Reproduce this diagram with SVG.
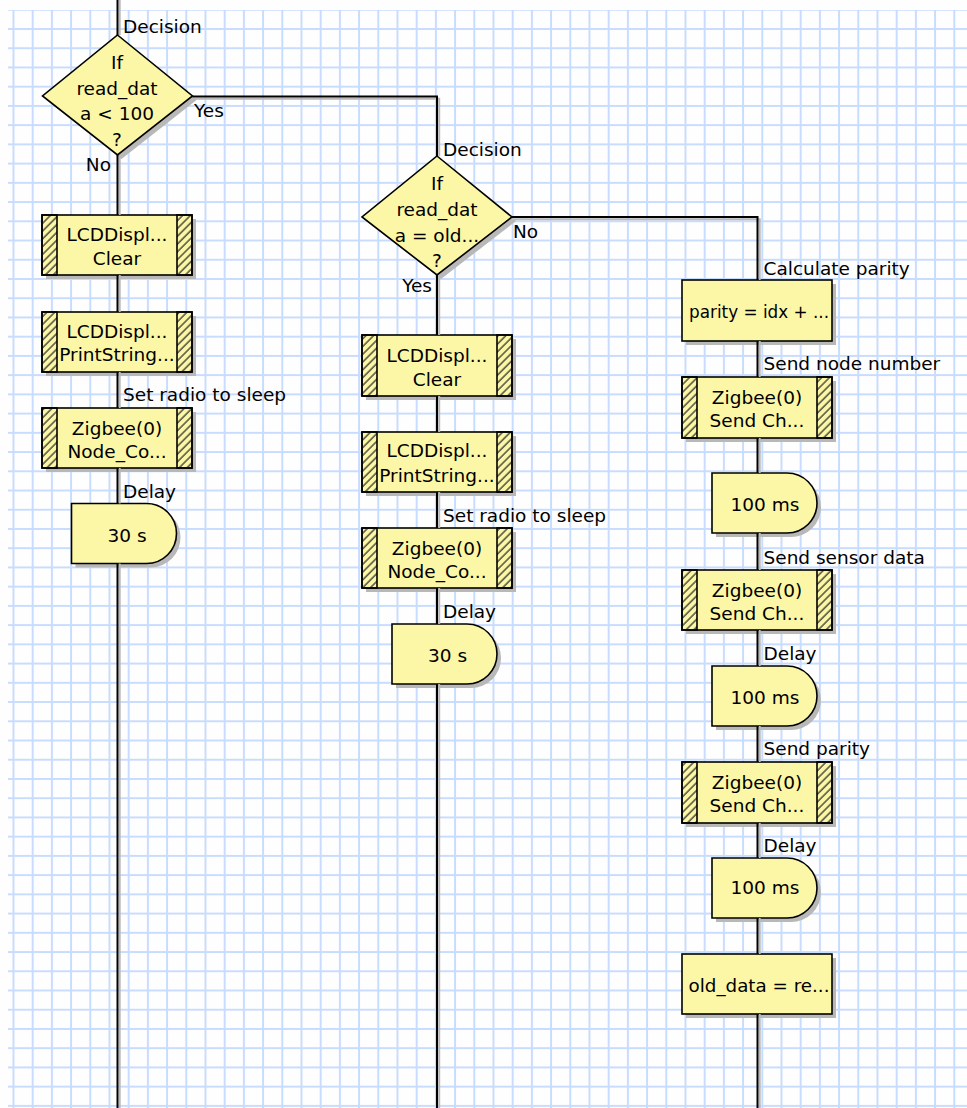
<svg xmlns="http://www.w3.org/2000/svg" width="967" height="1108" viewBox="0 0 967 1108">
<defs>
<pattern id="grid" patternUnits="userSpaceOnUse" x="12.5" y="8.8" width="19.2" height="19.23">
<path d="M1 0 V19.23 M0 1 H19.2" stroke="#c8dcff" stroke-width="2" fill="none"/>
</pattern>
<pattern id="hatch" patternUnits="userSpaceOnUse" width="5.5" height="5.5" patternTransform="rotate(45)">
<line x1="1" y1="-1" x2="1" y2="7" stroke="#222" stroke-width="1.2"/>
</pattern>
<style>
.sh{fill:#b8b8b8}
.box{fill:#fbf7a6;stroke:#000;stroke-width:1.6}
.strip{fill:url(#hatch);stroke:#000;stroke-width:1.6}
.t{font-family:"DejaVu Sans",sans-serif;font-size:18.5px;fill:#000}
.c{text-anchor:middle}
.e{text-anchor:end}
.w{stroke:#000;stroke-width:2;fill:none}
.ws{stroke:#b8b8b8;stroke-width:2;fill:none}
</style>
</defs>
<rect x="0" y="0" width="967" height="1108" fill="#fefefe"/>
<rect x="8" y="10" width="959" height="1098" fill="url(#grid)"/>

<!-- Left column -->
<g id="decision-1">
<polygon class="sh" points="121.5,39 196.5,100 121.5,159 46.5,100"/>
<polygon class="box" points="117.5,35 192.5,96 117.5,155 42.5,96"/>
<text class="t c" x="117" y="69">If</text>
<text class="t c" x="117" y="95">read_dat</text>
<text class="t c" x="117" y="120">a &lt; 100</text>
<text class="t c" x="117" y="146">?</text>
</g>
<g id="lcd-clear-1">
<rect class="sh" x="46" y="219" width="150" height="60"/>
<rect class="box" x="42" y="215" width="150" height="60"/>
<rect class="strip" x="42" y="215" width="15" height="60"/>
<rect class="strip" x="177" y="215" width="15" height="60"/>
<text class="t c" x="117" y="241">LCDDispl...</text>
<text class="t c" x="117" y="265">Clear</text>
</g>
<g id="lcd-print-1">
<rect class="sh" x="46" y="316" width="150" height="60"/>
<rect class="box" x="42" y="312" width="150" height="60"/>
<rect class="strip" x="42" y="312" width="15" height="60"/>
<rect class="strip" x="177" y="312" width="15" height="60"/>
<text class="t c" x="117" y="338">LCDDispl...</text>
<text class="t c" x="117" y="361">PrintString...</text>
</g>
<g id="zigbee-sleep-1">
<rect class="sh" x="46" y="412" width="150" height="60"/>
<rect class="box" x="42" y="408" width="150" height="60"/>
<rect class="strip" x="42" y="408" width="15" height="60"/>
<rect class="strip" x="177" y="408" width="15" height="60"/>
<text class="t c" x="117" y="435">Zigbee(0)</text>
<text class="t c" x="117" y="458">Node_Co...</text>
</g>
<g id="delay-1">
<path class="sh" d="M75.5 507.5 H150.5 A30 30 0 0 1 150.5 567.5 H75.5 Z"/>
<path class="box" d="M71.5 503.5 H146.5 A30 30 0 0 1 146.5 563.5 H71.5 Z"/>
<text class="t c" x="127" y="542">30 s</text>
</g>

<!-- Middle column -->
<g id="decision-2">
<polygon class="sh" points="441,160 516,221 441,279 366,221"/>
<polygon class="box" points="437,156 512,217 437,275 362,217"/>
<text class="t c" x="437" y="190">If</text>
<text class="t c" x="437" y="215.5">read_dat</text>
<text class="t c" x="437" y="241.5">a = old...</text>
<text class="t c" x="437" y="267">?</text>
</g>
<g id="lcd-clear-2">
<rect class="sh" x="366" y="339" width="150" height="61"/>
<rect class="box" x="362" y="335" width="150" height="61"/>
<rect class="strip" x="362" y="335" width="15" height="61"/>
<rect class="strip" x="497" y="335" width="15" height="61"/>
<text class="t c" x="437" y="361.5">LCDDispl...</text>
<text class="t c" x="437" y="386">Clear</text>
</g>
<g id="lcd-print-2">
<rect class="sh" x="366" y="436" width="150" height="60"/>
<rect class="box" x="362" y="432" width="150" height="60"/>
<rect class="strip" x="362" y="432" width="15" height="60"/>
<rect class="strip" x="497" y="432" width="15" height="60"/>
<text class="t c" x="437" y="457">LCDDispl...</text>
<text class="t c" x="437" y="481.5">PrintString...</text>
</g>
<g id="zigbee-sleep-2">
<rect class="sh" x="366" y="532" width="150" height="60"/>
<rect class="box" x="362" y="528" width="150" height="60"/>
<rect class="strip" x="362" y="528" width="15" height="60"/>
<rect class="strip" x="497" y="528" width="15" height="60"/>
<text class="t c" x="437" y="555">Zigbee(0)</text>
<text class="t c" x="437" y="578">Node_Co...</text>
</g>
<g id="delay-2">
<path class="sh" d="M396 628 H471 A30 30 0 0 1 471 688 H396 Z"/>
<path class="box" d="M392 624 H467 A30 30 0 0 1 467 684 H392 Z"/>
<text class="t c" x="447.5" y="662">30 s</text>
</g>

<!-- Right column -->
<g id="calc-parity">
<rect class="sh" x="686" y="284" width="150" height="61"/>
<rect class="box" x="682" y="280" width="150" height="61"/>
<text class="t c" x="759" y="318" textLength="140" lengthAdjust="spacingAndGlyphs">parity = idx + ...</text>
</g>
<g id="send-node">
<rect class="sh" x="686" y="381" width="150" height="61"/>
<rect class="box" x="682" y="377" width="150" height="61"/>
<rect class="strip" x="682" y="377" width="15" height="61"/>
<rect class="strip" x="817" y="377" width="15" height="61"/>
<text class="t c" x="757" y="403.5">Zigbee(0)</text>
<text class="t c" x="757" y="427">Send  Ch...</text>
</g>
<g id="delay-3">
<path class="sh" d="M716 477 H791 A30 30 0 0 1 791 537 H716 Z"/>
<path class="box" d="M712 473 H787 A30 30 0 0 1 787 533 H712 Z"/>
<text class="t c" x="765" y="511">100 ms</text>
</g>
<g id="send-sensor">
<rect class="sh" x="686" y="574" width="150" height="60"/>
<rect class="box" x="682" y="570" width="150" height="60"/>
<rect class="strip" x="682" y="570" width="15" height="60"/>
<rect class="strip" x="817" y="570" width="15" height="60"/>
<text class="t c" x="757" y="597">Zigbee(0)</text>
<text class="t c" x="757" y="620">Send  Ch...</text>
</g>
<g id="delay-4">
<path class="sh" d="M716 670 H791 A30 30 0 0 1 791 730 H716 Z"/>
<path class="box" d="M712 666 H787 A30 30 0 0 1 787 726 H712 Z"/>
<text class="t c" x="765" y="704">100 ms</text>
</g>
<g id="send-parity">
<rect class="sh" x="686" y="766" width="150" height="61"/>
<rect class="box" x="682" y="762" width="150" height="61"/>
<rect class="strip" x="682" y="762" width="15" height="61"/>
<rect class="strip" x="817" y="762" width="15" height="61"/>
<text class="t c" x="757" y="788.5">Zigbee(0)</text>
<text class="t c" x="757" y="812">Send  Ch...</text>
</g>
<g id="delay-5">
<path class="sh" d="M716 862 H791 A30 30 0 0 1 791 922 H716 Z"/>
<path class="box" d="M712 858 H787 A30 30 0 0 1 787 918 H712 Z"/>
<text class="t c" x="765" y="894">100 ms</text>
</g>
<g id="store-old">
<rect class="sh" x="686" y="958" width="150" height="60"/>
<rect class="box" x="682" y="954" width="150" height="60"/>
<text class="t c" x="759" y="992" textLength="141" lengthAdjust="spacingAndGlyphs">old_data = re...</text>
</g>

<!-- Connectors -->
<g id="connectors">
<path class="ws" d="M119.7 0 V35 M119.7 155 V215 M119.7 275 V312 M119.7 372 V408 M119.7 468 V503.5 M119.7 563.5 V1108 M192.5 98.7 H439.2 V156 M439.2 275 V335 M439.2 396 V432 M439.2 492 V528 M439.2 588 V624 M439.2 684 V1108 M512 219.2 H759.7 V280 M759.7 341 V377 M759.7 438 V473 M759.7 533 V570 M759.7 630 V666 M759.7 726 V762 M759.7 823 V858 M759.7 918 V954 M759.7 1014 V1108"/>
<path class="w" d="M117.5 0 V35 M117.5 155 V215 M117.5 275 V312 M117.5 372 V408 M117.5 468 V503.5 M117.5 563.5 V1108 M192.5 96.5 H437 V156 M437 275 V335 M437 396 V432 M437 492 V528 M437 588 V624 M437 684 V1108 M512 217 H757.5 V280 M757.5 341 V377 M757.5 438 V473 M757.5 533 V570 M757.5 630 V666 M757.5 726 V762 M757.5 823 V858 M757.5 918 V954 M757.5 1014 V1108"/>
<text class="t" x="123" y="33">Decision</text>
<text class="t" x="194" y="117">Yes</text>
<text class="t e" x="111" y="171">No</text>
<text class="t" x="123" y="401">Set radio to sleep</text>
<text class="t" x="123" y="498">Delay</text>
<text class="t" x="443" y="156">Decision</text>
<text class="t" x="513" y="238">No</text>
<text class="t e" x="432" y="292">Yes</text>
<text class="t" x="443" y="522">Set radio to sleep</text>
<text class="t" x="443" y="617.5">Delay</text>
<text class="t" x="763.5" y="275">Calculate parity</text>
<text class="t" x="763.5" y="370">Send node number</text>
<text class="t" x="763.5" y="563.5">Send sensor data</text>
<text class="t" x="763.5" y="660">Delay</text>
<text class="t" x="763.5" y="755">Send parity</text>
<text class="t" x="763.5" y="852">Delay</text>
</g>
</svg>
